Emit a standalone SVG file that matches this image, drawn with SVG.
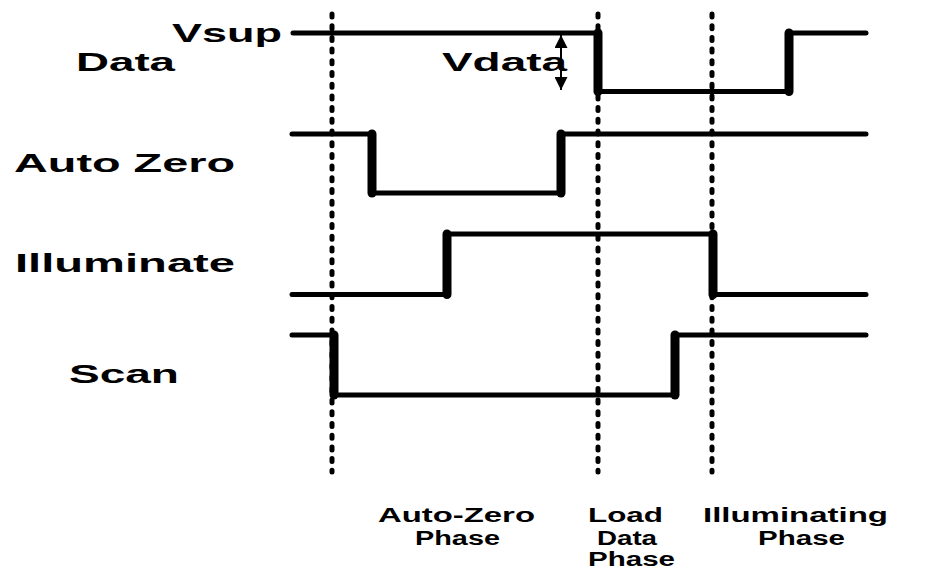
<svg xmlns="http://www.w3.org/2000/svg" width="952" height="570" viewBox="0 0 952 570">
<style>
.lbl{font-family:"Liberation Sans",Arial,sans-serif;font-weight:bold;font-size:25px;fill:#000}
.ph{font-family:"Liberation Sans",Arial,sans-serif;font-weight:bold;font-size:20px;fill:#000}
.sig{fill:none;stroke:#000;stroke-width:5;stroke-linecap:round;stroke-linejoin:round}
.edge{stroke:#000;stroke-width:9;stroke-linecap:round}
.guide{stroke:#000;stroke-width:5;stroke-dasharray:3 8.7;stroke-linecap:round}
</style>
<defs>
<marker id="ah" viewBox="0 0 10 10" refX="10" refY="5" markerWidth="13" markerHeight="13" markerUnits="userSpaceOnUse" orient="auto-start-reverse">
<path d="M0,0 L10,5 L0,10 z" fill="#000"/>
</marker>
</defs>
<rect width="952" height="570" fill="#fff"/>
<g id="connectors">
<line class="guide" x1="332" y1="14" x2="332" y2="472"/>
<line class="guide" x1="598" y1="14" x2="598" y2="472"/>
<line class="guide" x1="712" y1="14" x2="712" y2="472"/>
</g>
<g id="data">
<text class="lbl" x="172" y="42" textLength="110" lengthAdjust="spacingAndGlyphs">Vsup</text>
<text class="lbl" x="76" y="71" textLength="99" lengthAdjust="spacingAndGlyphs">Data</text>
<path class="sig" d="M293,33 H598 V91.5 H789 V33 H866"/>
<line class="edge" x1="598" y1="33" x2="598" y2="91.5"/>
<line class="edge" x1="789" y1="33" x2="789" y2="91.5"/>
<line x1="561" y1="35" x2="561" y2="90" stroke="#000" stroke-width="2" marker-start="url(#ah)" marker-end="url(#ah)"/>
<text class="lbl" x="442" y="71" textLength="125" lengthAdjust="spacingAndGlyphs">Vdata</text>
</g>
<g id="autozero">
<text class="lbl" x="14" y="172" textLength="221" lengthAdjust="spacingAndGlyphs">Auto Zero</text>
<path class="sig" d="M292,134 H372 V193 H561 V134 H866"/>
<line class="edge" x1="372" y1="134" x2="372" y2="193"/>
<line class="edge" x1="561" y1="134" x2="561" y2="193"/>
</g>
<g id="illuminate">
<text class="lbl" x="15" y="272" textLength="220" lengthAdjust="spacingAndGlyphs">Illuminate</text>
<path class="sig" d="M292,294.5 H447 V234 H713 V294.5 H866"/>
<line class="edge" x1="447" y1="234" x2="447" y2="294.5"/>
<line class="edge" x1="713" y1="234" x2="713" y2="294.5"/>
</g>
<g id="scan">
<text class="lbl" x="69" y="383" textLength="110" lengthAdjust="spacingAndGlyphs">Scan</text>
<path class="sig" d="M292,335 H334 V395 H675 V335 H866"/>
<line class="edge" x1="334" y1="335" x2="334" y2="395"/>
<line class="edge" x1="675" y1="335" x2="675" y2="395"/>
</g>
<g id="phase-autozero">
<text class="ph" x="378" y="522" textLength="157" lengthAdjust="spacingAndGlyphs">Auto-Zero</text>
<text class="ph" x="415" y="544.5" textLength="85" lengthAdjust="spacingAndGlyphs">Phase</text>
</g>
<g id="phase-load">
<text class="ph" x="588" y="522" textLength="75" lengthAdjust="spacingAndGlyphs">Load</text>
<text class="ph" x="597" y="544.5" textLength="60" lengthAdjust="spacingAndGlyphs">Data</text>
<text class="ph" x="588" y="566" textLength="87" lengthAdjust="spacingAndGlyphs">Phase</text>
</g>
<g id="phase-illuminating">
<text class="ph" x="703" y="522" textLength="185" lengthAdjust="spacingAndGlyphs">Illuminating</text>
<text class="ph" x="758" y="544.5" textLength="87" lengthAdjust="spacingAndGlyphs">Phase</text>
</g>
</svg>
